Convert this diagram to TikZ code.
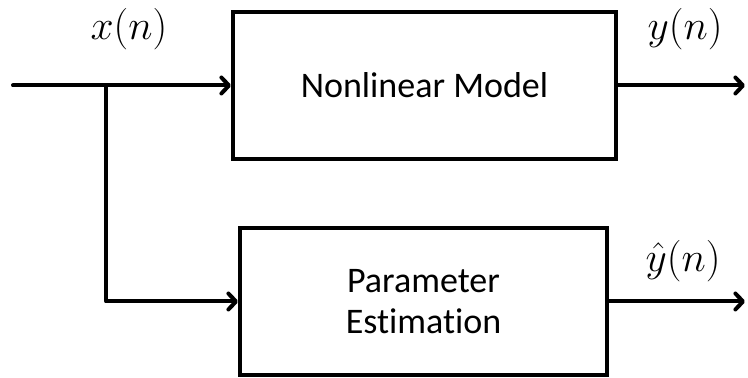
\documentclass[tikz,border=0pt]{standalone}
\usepackage{fontspec}
\setmainfont[Ligatures=NoCommon]{Carlito}
\usetikzlibrary{arrows.meta}
\tikzset{
  blockbox/.style={draw, line width=2pt, rectangle, align=center,
    font=\fontsize{18}{20.5}\selectfont, inner sep=0pt},
  sigline/.style={line width=2pt, line cap=round, line join=round},
  sigarrow/.style={sigline, -{Straight Barb[length=3.8pt,width=8pt,line cap=round,line join=round]}},
  siglabel/.style={font=\fontsize{19.5}{22}\selectfont, inner sep=0pt}
}
\begin{document}
\begin{tikzpicture}[x=0.5pt,y=-0.5pt]
  \useasboundingbox (0,0) rectangle (748,378);
  % blocks
  \node[blockbox, minimum width=191.5pt, minimum height=73.5pt] (model) at (424.5,85.5) {Nonlinear Model};
  \node[blockbox, minimum width=183.5pt, minimum height=73.5pt] (est) at (423.5,301.5) {Parameter\\Estimation};
  % signal points
  \coordinate (in) at (13,85.5);
  \coordinate (split) at (106,85.5);
  \coordinate (outy) at (745,85.5);
  \coordinate (outyh) at (745,301.5);
  % connectors
  \draw[sigarrow] (in) -- (model.west);
  \draw[sigarrow] (split) |- (est.west);
  \draw[sigarrow] (model.east) -- (outy);
  \draw[sigarrow] (est.east) -- (outyh);
  % labels
  \node[siglabel] (xl) at (129,29) {$x(n)$};
  \node[siglabel] (yl) at (685,29) {$y(n)$};
  \node[siglabel] (yhl) at (683,261) {$\hat{y}(n)$};
\end{tikzpicture}
\end{document}
